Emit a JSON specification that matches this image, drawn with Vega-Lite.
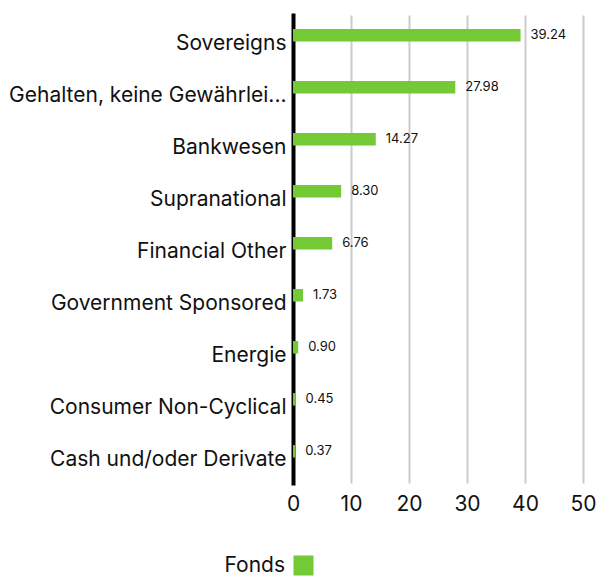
{
  "$schema": "https://vega.github.io/schema/vega-lite/v6.json",
  "width": 290,
  "height": 468,
  "autosize": "none",
  "padding": {"left": 293, "top": 15, "right": 13, "bottom": 94},
  "background": "white",
  "config": {
    "font": "Inter",
    "view": {"stroke": null}
  },
  "data": {
    "values": [
      {"sector": "Sovereigns", "value": 39.24, "series": "Fonds"},
      {"sector": "Gehalten, keine Gewährlei...", "value": 27.98, "series": "Fonds"},
      {"sector": "Bankwesen", "value": 14.27, "series": "Fonds"},
      {"sector": "Supranational", "value": 8.30, "series": "Fonds"},
      {"sector": "Financial Other", "value": 6.76, "series": "Fonds"},
      {"sector": "Government Sponsored", "value": 1.73, "series": "Fonds"},
      {"sector": "Energie", "value": 0.90, "series": "Fonds"},
      {"sector": "Consumer Non-Cyclical", "value": 0.45, "series": "Fonds"},
      {"sector": "Cash und/oder Derivate", "value": 0.37, "series": "Fonds"}
    ]
  },
  "encoding": {
    "y": {
      "field": "sector",
      "type": "nominal",
      "sort": null,
      "scale": {"paddingInner": 0, "paddingOuter": 0},
      "axis": {
        "title": null,
        "domainColor": "black",
        "domainWidth": 4,
        "domainCap": "square",
        "ticks": false,
        "labelFontSize": 21,
        "labelColor": "#111",
        "labelPadding": 7,
        "labelOffset": 3,
        "labelLimit": 320
      }
    }
  },
  "layer": [
    {
      "mark": {"type": "bar", "height": 12.5, "yOffset": -5.7},
      "encoding": {
        "x": {
          "field": "value",
          "type": "quantitative",
          "scale": {"domain": [0, 50]},
          "axis": {
            "title": null,
            "values": [0, 10, 20, 30, 40, 50],
            "domain": false,
            "ticks": false,
            "gridColor": "#cccccc",
            "gridWidth": 2,
            "labelFlush": false,
            "labelFontSize": 21,
            "labelColor": "#111",
            "labelPadding": 10
          }
        },
        "color": {
          "field": "series",
          "type": "nominal",
          "scale": {"range": ["#73c936"]},
          "legend": {
            "title": null,
            "orient": "bottom",
            "symbolType": "square",
            "symbolSize": 400,
            "symbolStrokeWidth": 0,
            "symbolOpacity": 1,
            "labelFontSize": 21,
            "labelColor": "#111",
            "labelAlign": "right",
            "labelOffset": -29,
            "offset": 41
          }
        }
      }
    },
    {
      "mark": {"type": "text", "align": "left", "dx": 10, "yOffset": -6.5, "fontSize": 13, "color": "#111"},
      "encoding": {
        "x": {"field": "value", "type": "quantitative"},
        "text": {"field": "value", "type": "quantitative", "format": ".2f"}
      }
    }
  ]
}
